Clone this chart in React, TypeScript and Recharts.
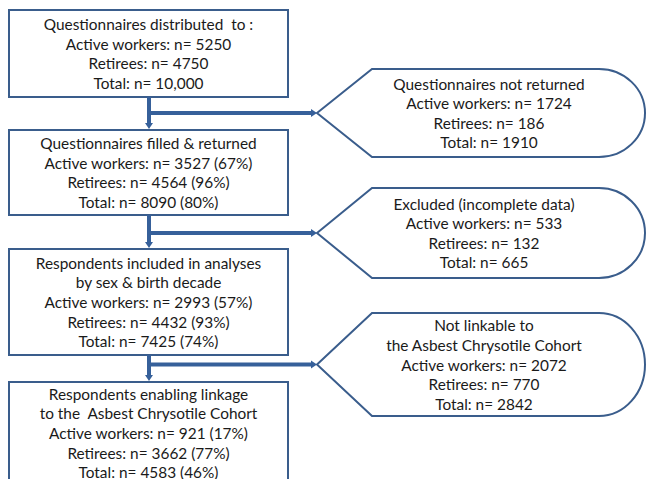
import React from 'react';
import { ComposedChart, XAxis, YAxis, Scatter, ReferenceArea, ReferenceLine } from 'recharts';

const W = 647;
const H = 479;

// stages of the flow (left column)
const stageTitles = [
  ['Questionnaires distributed  to :'],
  ['Questionnaires filled & returned'],
  ['Respondents included in analyses', 'by sex & birth decade'],
  ['Respondents enabling linkage', 'to the  Asbest Chrysotile Cohort'],
];
const stageActive = [5250, 3527, 2993, 921];
const stageRetirees = [4750, 4564, 4432, 3662];
const stageTotal = [10000, 8090, 7425, 4583];
const stageActivePct = [null, 67, 57, 17];
const stageRetireesPct = [null, 96, 93, 77];
const stageTotalPct = [null, 80, 74, 46];

// losses between stages (right column)
const lossTitles = [
  ['Questionnaires not returned'],
  ['Excluded (incomplete data)'],
  ['Not linkable to', 'the Asbest Chrysotile Cohort'],
];
const lossActive = [1724, 533, 2072];
const lossRetirees = [186, 132, 770];
const lossTotal = [1910, 665, 2842];

// layout, in axis units (1 unit = 1 px)
const stageBoxes = [
  { x1: 9, x2: 288, y1: 10, y2: 97 },
  { x1: 9, x2: 288, y1: 130, y2: 215 },
  { x1: 9, x2: 288, y1: 249, y2: 355 },
  { x1: 9, x2: 288, y1: 382, y2: 484 },
];
const lossBoxes = [
  { x1: 317, x2: 645, y1: 69, y2: 157, dx: 8 },
  { x1: 317, x2: 645, y1: 188, y2: 278, dx: 3 },
  { x1: 317, x2: 645, y1: 313, y2: 416, dx: 3 },
];
const stemX = 149;

const BORDER = '#3A5D8C';
const ARROW = '#36609A';
const TEXT = '#1A1A1A';
const FONT = 'Lato, "Open Sans", sans-serif';
const FONT_SIZE = 15.4;
const LINE_H = 19.6;

const fmt = (n: number) => (n >= 10000 ? n.toLocaleString('en-US') : String(n));
const withPct = (n: number, p: number | null) => (p == null ? fmt(n) : `${fmt(n)} (${p}%)`);

const nodes = [
  ...stageBoxes.map((b, i) => ({
    x: (b.x1 + b.x2) / 2,
    y: (b.y1 + b.y2) / 2,
    lines: [
      ...stageTitles[i],
      `Active workers: n= ${withPct(stageActive[i], stageActivePct[i])}`,
      `Retirees: n= ${withPct(stageRetirees[i], stageRetireesPct[i])}`,
      `Total: n= ${withPct(stageTotal[i], stageTotalPct[i])}`,
    ],
  })),
  ...lossBoxes.map((b, i) => ({
    x: (b.x1 + b.x2) / 2 + b.dx,
    y: (b.y1 + b.y2) / 2,
    lines: [
      ...lossTitles[i],
      `Active workers: n= ${fmt(lossActive[i])}`,
      `Retirees: n= ${fmt(lossRetirees[i])}`,
      `Total: n= ${fmt(lossTotal[i])}`,
    ],
  })),
];

const TextBlock = (props: any) => {
  const { cx, cy, payload } = props;
  const lines: string[] = payload.lines;
  const n = lines.length;
  return (
    <g>
      {lines.map((t, i) => (
        <text
          key={i}
          x={cx}
          y={cy + (i - (n - 1) / 2) * LINE_H}
          textAnchor="middle"
          dominantBaseline="central"
          fontFamily={FONT}
          fontSize={FONT_SIZE}
          fill={TEXT}
          style={{ whiteSpace: 'pre' }}
        >
          {t}
        </text>
      ))}
    </g>
  );
};

const StageRect = (props: any) => {
  const { x, y, width, height } = props;
  return <rect x={x} y={y} width={width} height={height} fill="none" stroke={BORDER} strokeWidth={2} />;
};

const Callout = (props: any) => {
  const { x, y, width, height } = props;
  const mid = y + height / 2;
  const r = 46;
  const left = x + 55;
  const right = x + width - r;
  const d = `M${x},${mid} L${left},${y} L${right},${y} A${r},${height / 2} 0 0 1 ${right},${y + height} L${left},${y + height} Z`;
  return <path d={d} fill="none" stroke={BORDER} strokeWidth={2} />;
};

const Arrow = (props: any) => {
  const { x1, y1, x2, y2 } = props;
  const len = Math.hypot(x2 - x1, y2 - y1) || 1;
  const ux = (x2 - x1) / len;
  const uy = (y2 - y1) / len;
  const head = 6;
  const hw = 4;
  const bx = x2 - ux * head;
  const by = y2 - uy * head;
  const pts = `${x2},${y2} ${bx - uy * hw},${by + ux * hw} ${bx + uy * hw},${by - ux * hw}`;
  return (
    <g>
      <line x1={x1} y1={y1} x2={bx} y2={by} stroke={ARROW} strokeWidth={4} />
      <polygon points={pts} fill={ARROW} />
    </g>
  );
};

export default function App() {
  return (
    <div style={{ position: 'absolute', left: 0, top: 0, background: '#fff' }}>
      <ComposedChart width={W} height={H} margin={{ top: 0, right: 0, bottom: 0, left: 0 }}>
        <XAxis type="number" dataKey="x" domain={[0, W]} allowDataOverflow hide />
        <YAxis type="number" dataKey="y" domain={[0, H]} allowDataOverflow reversed hide />
        {stageBoxes.map((b, i) => (
          <ReferenceArea key={`s${i}`} x1={b.x1} x2={b.x2} y1={b.y1} y2={b.y2} ifOverflow="visible" shape={StageRect} />
        ))}
        {lossBoxes.map((b, i) => (
          <ReferenceArea key={`l${i}`} x1={b.x1} x2={b.x2} y1={b.y1} y2={b.y2} ifOverflow="visible" shape={Callout} />
        ))}
        {stageBoxes.slice(0, -1).map((b, i) => (
          <ReferenceLine
            key={`v${i}`}
            segment={[{ x: stemX, y: b.y2 }, { x: stemX, y: stageBoxes[i + 1].y1 - 1 }]}
            ifOverflow="visible"
            shape={Arrow}
          />
        ))}
        {lossBoxes.map((b, i) => (
          <ReferenceLine
            key={`h${i}`}
            segment={[{ x: stemX - 2, y: (b.y1 + b.y2) / 2 }, { x: b.x1, y: (b.y1 + b.y2) / 2 }]}
            ifOverflow="visible"
            shape={Arrow}
          />
        ))}
        <Scatter data={nodes} isAnimationActive={false} shape={TextBlock} />
      </ComposedChart>
    </div>
  );
}
